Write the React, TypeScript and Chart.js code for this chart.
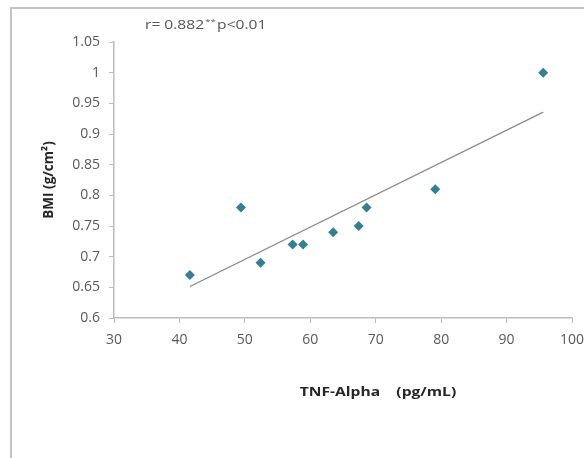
import React, { useEffect, useRef } from "react";
import { Chart, registerables } from "chart.js";

Chart.register(...registerables);

const tnfAlpha = [41.6, 49.4, 52.4, 57.3, 58.9, 63.5, 67.4, 68.6, 79.1, 95.6];
const bmi = [0.67, 0.78, 0.69, 0.72, 0.72, 0.74, 0.75, 0.78, 0.81, 1.0];

const xMin = 30;
const xMax = 100;
const xStep = 10;
const yMin = 0.6;
const yMax = 1.05;
const yStep = 0.05;

const annotationMain = "r= 0.882";
const annotationSup = "**";
const annotationTail = "p<0.01";
const xTitle = "TNF-Alpha    (pg/mL)";
const yTitle = "BMI (g/cm²)";

const FONT = "'Open Sans', sans-serif";
const MARKER = "#2E8197";
const AXIS = "#bdbdbd";
const TICK_TEXT = "#595959";
const STRETCH = 1.2;

function regression(xs: number[], ys: number[]) {
  const n = xs.length;
  const mx = xs.reduce((a, b) => a + b, 0) / n;
  const my = ys.reduce((a, b) => a + b, 0) / n;
  let sxy = 0;
  let sxx = 0;
  for (let i = 0; i < n; i++) {
    sxy += (xs[i] - mx) * (ys[i] - my);
    sxx += (xs[i] - mx) * (xs[i] - mx);
  }
  const slope = sxy / sxx;
  const intercept = my - slope * mx;
  const x0 = Math.min(...xs);
  const x1 = Math.max(...xs);
  return [
    { x: x0, y: intercept + slope * x0 },
    { x: x1, y: intercept + slope * x1 },
  ];
}

const decorPlugin = {
  id: "decor",
  beforeDraw(chart: any) {
    const ctx = chart.ctx;
    ctx.save();
    ctx.fillStyle = "#ffffff";
    ctx.fillRect(0, 0, chart.width, chart.height);
    ctx.strokeStyle = "#c4c4c4";
    ctx.lineWidth = 2;
    ctx.beginPath();
    ctx.moveTo(11, chart.height);
    ctx.lineTo(11, 8);
    ctx.lineTo(chart.width, 8);
    ctx.stroke();
    ctx.restore();
  },
  afterDraw(chart: any) {
    const ctx = chart.ctx;
    const area = chart.chartArea;

    // annotation (horizontally stretched like the source image)
    ctx.save();
    ctx.translate(145, 29);
    ctx.scale(STRETCH, 1);
    ctx.fillStyle = "#555555";
    ctx.textBaseline = "alphabetic";
    ctx.textAlign = "left";
    let x = 0;
    ctx.font = `13px ${FONT}`;
    ctx.fillText(annotationMain, x, 0);
    x += ctx.measureText(annotationMain).width + 1;
    ctx.font = `8px ${FONT}`;
    ctx.fillText(annotationSup, x, -5);
    x += ctx.measureText(annotationSup).width + 1;
    ctx.font = `13px ${FONT}`;
    ctx.fillText(annotationTail, x, 0);
    ctx.restore();

    // x title
    ctx.save();
    ctx.translate(378, 392);
    ctx.scale(STRETCH, 1);
    ctx.fillStyle = "#262626";
    ctx.font = `bold 13px ${FONT}`;
    ctx.textAlign = "center";
    ctx.textBaseline = "middle";
    ctx.fillText(xTitle, 0, 0);
    ctx.restore();

    // y title
    ctx.save();
    ctx.translate(49, (area.top + area.bottom) / 2);
    ctx.rotate(-Math.PI / 2);
    ctx.fillStyle = "#262626";
    ctx.font = `bold 13.5px ${FONT}`;
    ctx.textAlign = "center";
    ctx.textBaseline = "middle";
    ctx.fillText(yTitle, 0, 0);
    ctx.restore();
  },
};

export default function App() {
  const ref = useRef<HTMLCanvasElement>(null);

  useEffect(() => {
    document.body.style.margin = "0";
    const canvas = ref.current;
    if (!canvas) return;
    const chart = new Chart(canvas, {
      type: "scatter",
      data: {
        datasets: [
          {
            type: "scatter",
            label: "BMI",
            data: tnfAlpha.map((v, i) => ({ x: v, y: bmi[i] })),
            pointStyle: "rectRot",
            pointRadius: 5,
            pointBackgroundColor: MARKER,
            pointBorderColor: MARKER,
            pointBorderWidth: 0,
            order: 1,
          },
          {
            type: "line",
            label: "Trend",
            data: regression(tnfAlpha, bmi),
            borderColor: "#8a8a8a",
            borderWidth: 1.3,
            pointRadius: 0,
            fill: false,
            order: 2,
          } as any,
        ],
      },
      options: {
        responsive: false,
        animation: false,
        devicePixelRatio: 1,
        layout: { padding: { left: 0, right: 12, top: 42, bottom: 0 } },
        plugins: {
          legend: { display: false },
          tooltip: { enabled: false },
          title: { display: false },
        },
        scales: {
          x: {
            type: "linear",
            min: xMin,
            max: xMax,
            afterFit(scale: any) {
              scale.height = 140;
              scale.paddingRight = 0;
              scale.paddingLeft = 0;
            },
            border: { display: true, color: AXIS, width: 1.5 },
            grid: {
              display: true,
              drawOnChartArea: false,
              drawTicks: true,
              tickLength: 5,
              color: AXIS,
            },
            ticks: {
              stepSize: xStep,
              padding: 9,
              color: TICK_TEXT,
              font: { family: FONT, size: 14 },
              maxRotation: 0,
              callback: (v: any) => String(Math.round(Number(v))),
            },
          },
          y: {
            type: "linear",
            min: yMin,
            max: yMax,
            afterFit(scale: any) {
              scale.width = 114;
              scale.paddingTop = 0;
              scale.paddingBottom = 0;
            },
            border: { display: true, color: AXIS, width: 1.5 },
            grid: {
              display: true,
              drawOnChartArea: false,
              drawTicks: true,
              tickLength: 5,
              color: AXIS,
            },
            ticks: {
              stepSize: yStep,
              padding: 9,
              color: TICK_TEXT,
              font: { family: FONT, size: 14 },
              callback: (v: any) => String(Number(Number(v).toFixed(2))),
            },
          },
        },
      },
      plugins: [decorPlugin],
    });
    return () => chart.destroy();
  }, []);

  return (
    <div style={{ position: "fixed", left: 0, top: 0, width: 584, height: 458 }}>
      <canvas ref={ref} width={584} height={458} style={{ width: 584, height: 458 }} />
    </div>
  );
}
